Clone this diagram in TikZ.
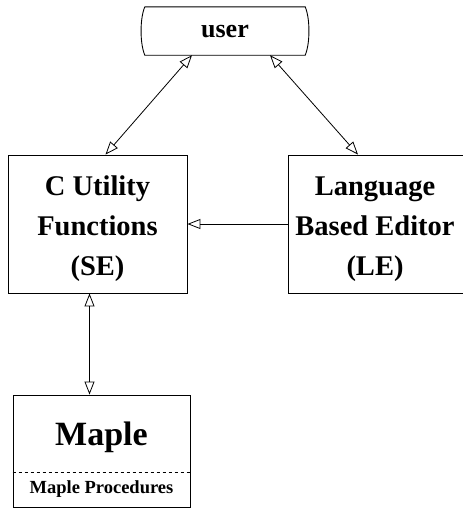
\documentclass[tikz,border=0pt]{standalone}
\usepackage{fontspec}
\setmainfont{Liberation Serif}
\usetikzlibrary{arrows.meta}
\tikzset{
  tip/.tip={Triangle[open,length=13pt,width=10pt,line width=0.8pt]},
  frame/.style={draw, line width=0.9pt, inner sep=0pt},
  boxtext/.style={inner sep=0pt, align=center,
    font=\bfseries\fontsize{28.5}{40}\selectfont},
  biline/.style={line width=0.8pt, tip-tip},
  oneline/.style={line width=0.8pt, -tip},
  bigtext/.style={inner sep=0pt, font=\bfseries\fontsize{34}{38}\selectfont},
  smalltext/.style={inner sep=0pt, font=\bfseries\fontsize{18.5}{22}\selectfont},
}
\begin{document}
\begin{tikzpicture}[x=1pt,y=-1pt]
\useasboundingbox (0,0) rectangle (463,517);
% user
\node[minimum width=160pt, minimum height=48pt, inner sep=0pt,
      font=\bfseries\fontsize{26}{30}\selectfont] (user) at (225,31) {user};
\draw[line width=0.9pt] (user.north west) -- (user.north east)
  .. controls +(5,12) and +(5,-12) .. (user.south east) -- (user.south west)
  .. controls +(-5,-12) and +(-5,12) .. (user.north west);
% boxes
\node[frame, minimum width=179pt, minimum height=138pt] (cbox) at (97.5,224) {};
\node[boxtext] (ctext) at (97.5,229) {C Utility\\Functions\\(SE)};
\node[frame, minimum width=200pt, minimum height=138pt] (le) at (388,224) {};
\node[boxtext] (letext) at (375,229) {Language\\Based Editor\\(LE)};
\node[frame, minimum width=177pt, minimum height=112pt] (maple) at (101.5,451) {};
\draw[dashed, line width=0.6pt] ([yshift=35pt]maple.south west) coordinate (dl) -- ([yshift=35pt]maple.south east) coordinate (dr);
\node[bigtext] (mapletext) at (101.5,437) {Maple};
\node[smalltext] (procs) at (101.5,489) {Maple Procedures};
% connectors
\draw[biline] ([xshift=-33pt]user.south) -- ([xshift=8pt]cbox.north);
\draw[biline] ([xshift=45pt]user.south) -- ([xshift=-30pt]le.north);
\draw[oneline] (le.west) -- (cbox.east);
\draw[biline] ([xshift=-8pt]cbox.south) -- ([xshift=-8pt]cbox.south |- maple.north);
\end{tikzpicture}
\end{document}
